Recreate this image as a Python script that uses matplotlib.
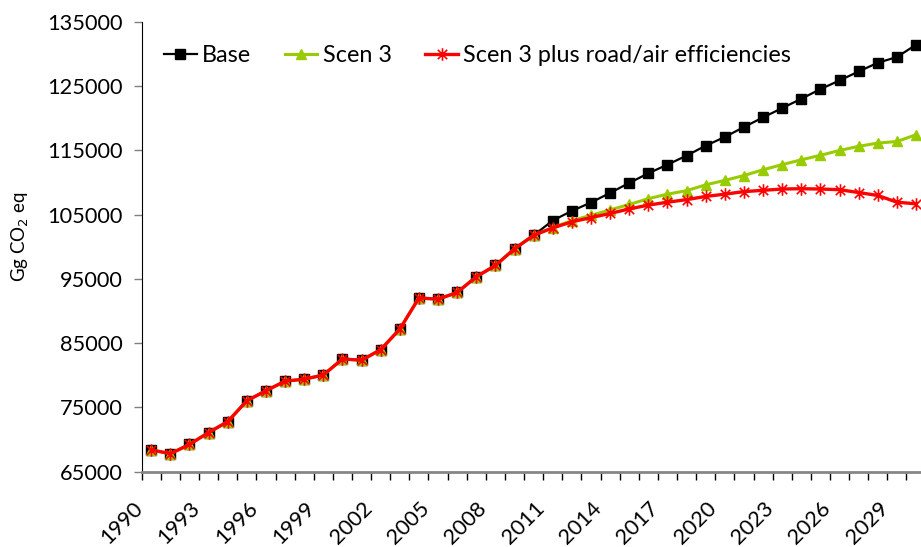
import matplotlib
matplotlib.use('Agg')
import matplotlib.pyplot as plt
from matplotlib.path import Path
import numpy as np

# data (Gg CO2 eq)
years = list(range(1990, 2031))
history = [68400, 67800, 69250, 71100, 72800, 76050, 77600, 79100, 79400, 80050,
           82550, 82350, 84000, 87200, 92050, 91850, 92900, 95350, 97100, 99700,
           101800]                                   # 1990-2010, same for all series
base_proj = [104100, 105600, 106900, 108400, 109950, 111450, 112800, 114200, 115750, 117100,
             118650, 120150, 121600, 123050, 124550, 125900, 127300, 128650, 129550, 131450]
scen3_proj = [103000, 104100, 104900, 105750, 106600, 107500, 108200, 108750, 109650, 110350,
              111100, 112000, 112800, 113550, 114250, 115000, 115650, 116150, 116400, 117450]
eff_proj = [102950, 103900, 104550, 105200, 105900, 106500, 106950, 107350, 107850, 108200,
            108600, 108800, 109000, 109050, 109000, 108900, 108450, 108000, 106950, 106700]

base = history + base_proj
scen3 = history + scen3_proj
scen3_eff = history + eff_proj
labels = ['Base', 'Scen 3', 'Scen 3 plus road/air efficiencies']

plt.rcParams['font.family'] = ['Lato', 'DejaVu Sans']

# excel-like star marker: vertical bar + X
star = Path([(0, -1), (0, 1), (-0.75, -0.75), (0.75, 0.75), (-0.75, 0.75), (0.75, -0.75)],
            [Path.MOVETO, Path.LINETO, Path.MOVETO, Path.LINETO, Path.MOVETO, Path.LINETO])

fig = plt.figure(figsize=(9.21, 5.47), dpi=100)
ax = fig.add_axes([141.7/921, 75.3/547, 783.9/921, 449.7/547])

x = np.arange(len(years))
ax.plot(x, base, color='black', lw=1.6, marker='s', ms=6.5, label=labels[0], clip_on=False)
ax.plot(x, scen3, color='#99CC00', lw=2.2, marker='^', ms=7.5, label=labels[1], clip_on=False)
ax.plot(x, scen3_eff, color='#FF0000', lw=2.4, marker=star, ms=9, mew=1.2,
        label=labels[2], clip_on=False)

ax.set_xlim(-0.5, len(years) - 0.5)
ax.set_ylim(65000, 135000)
ax.set_yticks(np.arange(65000, 135001, 10000))
ax.tick_params(axis='y', labelsize=15.7, length=6, width=1, color='#808080', pad=8)

# category axis: ticks between categories, labels every 3 years drawn as text
ax.set_xticks(np.arange(-0.5, len(years), 1))
ax.set_xticklabels([])
ax.tick_params(axis='x', length=6, width=1, color='black', direction='out')
for i in range(0, len(years), 3):
    ax.annotate(str(years[i]), xy=(i, 0), xycoords=('data', 'axes fraction'),
                xytext=(-8.5, -24), textcoords='offset points',
                rotation=45, rotation_mode='anchor', ha='right', va='center',
                fontsize=15.7, annotation_clip=False)

ax.spines['top'].set_visible(False)
ax.spines['right'].set_visible(False)
ax.spines['left'].set_color('black')
ax.spines['bottom'].set_color('#868686')
ax.spines['bottom'].set_linewidth(2)

fig.text(20/921, 1 - 237/547, 'Gg CO$_2$ eq', rotation=90, ha='center', va='center',
         fontsize=13.5)

ax.legend(loc='center left', bbox_to_anchor=((164 - 141.7)/783.9, (471.7 - 56)/449.7),
          ncol=3, frameon=False, fontsize=16.8, handlelength=1.4, handletextpad=0.22,
          columnspacing=1.45, borderpad=0, borderaxespad=0)

fig.savefig('out.png', dpi=100)
